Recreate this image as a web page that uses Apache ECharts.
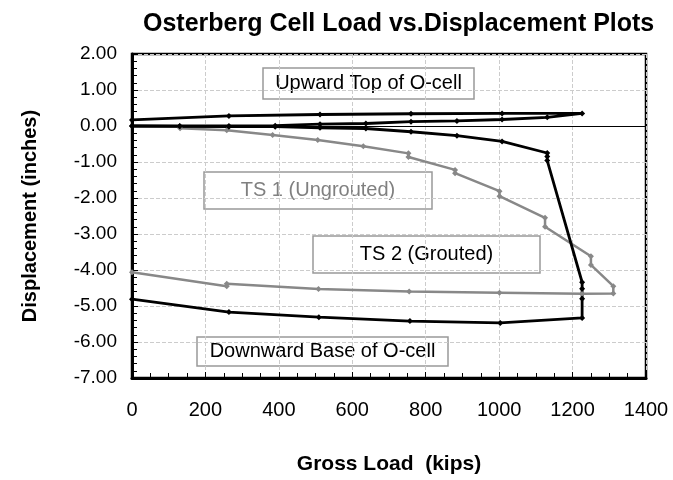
<!DOCTYPE html>
<html>
<head>
<meta charset="utf-8">
<script src="https://cdn.jsdelivr.net/npm/echarts@6/dist/echarts.min.js"></script>
<style>
  html, body { margin: 0; padding: 0; background: #fff; }
  #chart { width: 673px; height: 480px; }
</style>
</head>
<body>
<div id="chart"></div>
<script>
// upward movement of top of O-cell (load then unload)
var upLoad = [0, 130, 264, 390, 512, 637, 760, 885, 1008, 1131, 1226, 1008, 760, 512, 264, 0];
var upDisp = [0.00, 0.00, 0.00, 0.01, 0.05, 0.07, 0.12, 0.14, 0.18, 0.24, 0.35, 0.35, 0.34, 0.32, 0.28, 0.17];

// downward movement of base of O-cell
var downLoad = [0, 130, 264, 390, 512, 637, 760, 885, 1008, 1131, 1131, 1131, 1226, 1226, 1226, 1226, 1003, 757, 509, 264, 0];
var downDisp = [0.00, -0.01, -0.02, -0.02, -0.05, -0.07, -0.16, -0.27, -0.43, -0.75, -0.85, -0.96, -4.34, -4.52, -4.80, -5.33, -5.47, -5.42, -5.31, -5.17, -4.81];

// telltale TS 1 (ungrouted)
var ts1Load = [131, 258, 383, 506, 630, 753, 753, 880, 880, 1001, 1001, 1125, 1125, 1250, 1250, 1311, 1311, 1226, 1001, 755, 508, 258, 258, 0];
var ts1Disp = [-0.06, -0.12, -0.25, -0.39, -0.56, -0.76, -0.86, -1.22, -1.31, -1.81, -1.95, -2.55, -2.80, -3.62, -3.86, -4.45, -4.65, -4.66, -4.63, -4.60, -4.53, -4.38, -4.45, -4.06];

function pairs(xs, ys) {
  var out = [];
  for (var i = 0; i < xs.length; i++) out.push([xs[i], ys[i]]);
  return out;
}

var chart = echarts.init(document.getElementById('chart'));
var font = 'Liberation Sans, Arial, sans-serif';

// text boxes drawn on the plot
function box(x, y, w, h, label, color) {
  return {
    type: 'group', z: 100,
    children: [
      { type: 'rect', shape: { x: x, y: y, width: w, height: h },
        style: { fill: '#fff', stroke: '#999', lineWidth: 1.5 } },
      { type: 'text', x: x + w / 2, y: y + h / 2,
        style: { text: label, fill: color, font: '20px ' + font, align: 'center', verticalAlign: 'middle' } }
    ]
  };
}

var option = {
  animation: false,
  title: {
    text: 'Osterberg Cell Load vs.Displacement Plots',
    left: 138, top: 7,
    textStyle: { fontFamily: font, fontSize: 25, fontWeight: 'bold', color: '#000' }
  },
  grid: { left: 132, right: 27, top: 54, bottom: 100, show: true, borderColor: '#000', borderWidth: 2.5 },
  xAxis: {
    type: 'value', min: 0, max: 1400, interval: 200,
    name: 'Gross Load  (kips)', nameLocation: 'middle', nameGap: 76,
    nameTextStyle: { fontFamily: font, fontSize: 21, fontWeight: 'bold', color: '#000' },
    axisLine: { onZero: false, lineStyle: { color: '#000', width: 3 } },
    axisTick: { inside: true, length: 6, lineStyle: { color: '#000' } },
    minorTick: { show: true, splitNumber: 4, length: 5, lineStyle: { color: '#000' } },
    axisLabel: {
      margin: 22, fontFamily: font, fontSize: 20, color: '#000',
      formatter: function (v) { return String(v); }
    },
    splitLine: { show: true, lineStyle: { color: '#ccc', type: 'dashed', width: 1 } }
  },
  yAxis: {
    type: 'value', min: -7, max: 2, interval: 1,
    name: 'Displacement (inches)', nameLocation: 'middle', nameGap: 92, nameRotate: 90,
    nameTextStyle: { fontFamily: font, fontSize: 20, fontWeight: 'bold', color: '#000' },
    axisLine: { onZero: false, lineStyle: { color: '#000', width: 3 } },
    axisTick: { inside: true, length: 6, lineStyle: { color: '#000' } },
    minorTick: { show: true, splitNumber: 5, length: 5, lineStyle: { color: '#000' } },
    axisLabel: {
      margin: 15, fontFamily: font, fontSize: 19, color: '#000',
      formatter: function (v) { return v.toFixed(2); }
    },
    splitLine: { show: true, lineStyle: { color: '#ccc', type: 'dashed', width: 1 } }
  },
  series: [
    {
      name: 'TS 1 (Ungrouted)', type: 'line', data: pairs(ts1Load, ts1Disp),
      symbol: 'diamond', symbolSize: 6,
      lineStyle: { color: '#888', width: 2.5 }, itemStyle: { color: '#888' },
      markLine: {
        silent: true, symbol: 'none', label: { show: false },
        lineStyle: { color: '#000', width: 1, type: 'solid' },
        data: [{ yAxis: 0 }]
      }
    },
    {
      name: 'Downward Base of O-cell', type: 'line', data: pairs(downLoad, downDisp),
      symbol: 'diamond', symbolSize: 6,
      lineStyle: { color: '#000', width: 2.8 }, itemStyle: { color: '#000' }
    },
    {
      name: 'Upward Top of O-cell', type: 'line', data: pairs(upLoad, upDisp),
      symbol: 'diamond', symbolSize: 6,
      lineStyle: { color: '#000', width: 2.8 }, itemStyle: { color: '#000' }
    }
  ],
  graphic: [
    box(263, 68, 211, 31, 'Upward Top of O-cell', '#000'),
    box(204, 172, 228, 37, 'TS 1 (Ungrouted)', '#808080'),
    box(313, 236, 227, 37, 'TS 2 (Grouted)', '#000'),
    box(197, 337, 251, 29, 'Downward Base of O-cell', '#000')
  ]
};

chart.setOption(option);
</script>
</body>
</html>
